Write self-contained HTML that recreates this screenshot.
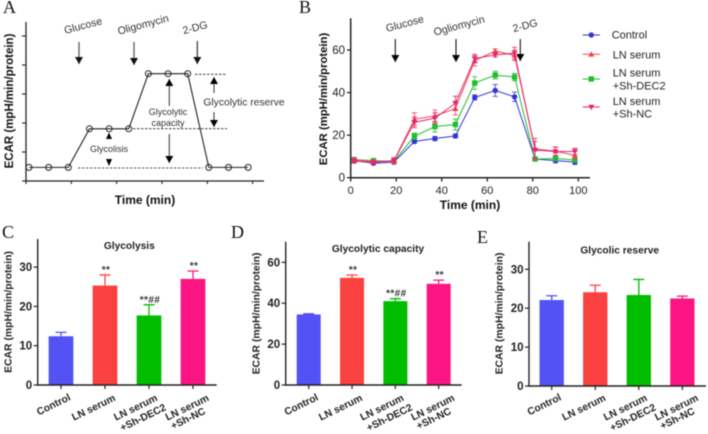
<!DOCTYPE html>
<html lang="en">
<head>
<meta charset="utf-8">
<title>ECAR glycolysis figure</title>
<style>
html,body{margin:0;padding:0;background:#fff;width:708px;height:434px;overflow:hidden}
svg{display:block;font-family:"Liberation Sans",Arial,sans-serif;filter:blur(.4px)}
.panel-letter{font-family:"Liberation Serif",serif;font-size:18px;fill:#111}
.note{font-size:10.6px;fill:#333}
.axis-title{font-weight:bold;fill:#111}
</style>
</head>
<body>
<svg id="fig" width="708" height="434" viewBox="0 0 708 434" xmlns="http://www.w3.org/2000/svg">
<defs>
<marker id="ah" markerWidth="9" markerHeight="10" refX="7" refY="4" orient="auto" markerUnits="userSpaceOnUse"><path d="M0 0L7 4L0 8Z" fill="#000"/></marker>
<marker id="ahg" markerWidth="9" markerHeight="10" refX="7" refY="4" orient="auto" markerUnits="userSpaceOnUse"><path d="M0 0L7 4L0 8Z" fill="#111"/></marker>
</defs>

<text class="panel-letter" x="3" y="13">A</text>
<text class="panel-letter" x="299" y="13">B</text>
<text class="panel-letter" x="2" y="238">C</text>
<text class="panel-letter" x="231" y="238">D</text>
<text class="panel-letter" x="477" y="243">E</text>

<!-- Panel A annotations -->
<g>
<text class="axis-title" font-size="11.5" text-anchor="middle" transform="translate(13,101) rotate(-90)">ECAR (mpH/min/protein)</text>
<text class="axis-title" font-size="12" text-anchor="middle" x="145" y="204">Time (min)</text>
<text class="note" text-anchor="middle" transform="translate(84,29) rotate(-15)">Glucose</text>
<text class="note" text-anchor="middle" transform="translate(144,28) rotate(-15)">Oligomycin</text>
<text class="note" text-anchor="middle" transform="translate(196,31) rotate(-15)">2-DG</text>
<line x1="79" y1="42" x2="79" y2="64" stroke="#666" stroke-width="1.4" marker-end="url(#ahg)"/>
<line x1="134" y1="42" x2="134" y2="65" stroke="#666" stroke-width="1.4" marker-end="url(#ahg)"/>
<line x1="197.3" y1="41" x2="197.3" y2="64" stroke="#222" stroke-width="1.1" marker-end="url(#ahg)"/>
<line x1="195" y1="74.3" x2="226" y2="74.3" stroke="#222" stroke-width=".8" stroke-dasharray="2.5 1.5"/>
<line x1="133" y1="128.7" x2="227" y2="128.7" stroke="#222" stroke-width=".8" stroke-dasharray="2.5 1.5"/>
<line x1="78" y1="168" x2="203" y2="168" stroke="#222" stroke-width=".8" stroke-dasharray="2.5 1.5"/>
<line x1="214" y1="93" x2="214" y2="77" stroke="#333" stroke-width="1" marker-end="url(#ah)"/>
<line x1="214" y1="112" x2="214" y2="127" stroke="#333" stroke-width="1" marker-end="url(#ah)"/>
<text class="note" style="font-size:10.3px" text-anchor="middle" x="244" y="105.5">Glycolytic reserve</text>
<text class="note" style="font-size:9px" text-anchor="middle" x="168" y="115">Glycolytic</text>
<text class="note" style="font-size:9px" text-anchor="middle" x="168" y="126">capacity</text>
<line x1="169.3" y1="106" x2="169.3" y2="79" stroke="#333" stroke-width="1" marker-end="url(#ah)"/>
<line x1="169.3" y1="134" x2="169.3" y2="163" stroke="#333" stroke-width="1" marker-end="url(#ah)"/>
<text class="note" style="font-size:9px" text-anchor="middle" x="109" y="152">Glycolisis</text>
<path d="M109 132.5L112 139H106Z" fill="#000"/>
<path d="M109 166L112 159H106Z" fill="#000"/>
</g>

<!-- Panel B static text -->
<g>
<text class="axis-title" font-size="11.3" text-anchor="middle" transform="translate(327,99) rotate(-90)">ECAR (mpH/min/protein)</text>
<text class="axis-title" font-size="12" text-anchor="middle" x="470" y="209">Time (min)</text>
<text class="note" text-anchor="middle" transform="translate(405.7,27) rotate(-15)">Glucose</text>
<text class="note" text-anchor="middle" transform="translate(460,29) rotate(-15)">Ogliomycin</text>
<text class="note" text-anchor="middle" transform="translate(526,29) rotate(-15)">2-DG</text>
<line x1="395.3" y1="39" x2="395.3" y2="62" stroke="#000" stroke-width="1" marker-end="url(#ah)"/>
<line x1="456" y1="39" x2="456" y2="62" stroke="#000" stroke-width="1" marker-end="url(#ah)"/>
<line x1="520.3" y1="39" x2="520.3" y2="61" stroke="#000" stroke-width="1" marker-end="url(#ah)"/>
</g>

<script>
// ---- Panel A schematic data ----
var schematicTimes = [2, 15, 28, 42, 55, 68, 81, 94, 107, 121, 134, 147];
var schematicLevels = [0.47, 0.47, 0.47, 1.8, 1.8, 1.8, 3.7, 3.7, 3.7, 0.47, 0.47, 0.47];
var schematicXTicks = [0, 30, 60, 90, 120, 150];
var schematicYTicks = [0, 1, 2, 3, 4, 5];

// ---- Panel B time-course data ----
var timePoints = [1.5, 10, 19, 28, 37, 46, 54.5, 63.5, 72, 81, 90, 98.5];
var controlValues = [8, 6.8, 7.3, 17, 18.4, 19.6, 37.7, 41, 38, 8.8, 8, 7.3];
var controlErrors = [0.8, 0.6, 0.6, 0.8, 1, 0.9, 1.2, 2.8, 2.2, 0.9, 1, 1];
var lnSerumValues = [8.5, 7.5, 8, 27.5, 29, 32.5, 55, 59.5, 57.5, 13.5, 12.5, 10.5];
var lnSerumErrors = [1, 0.8, 1, 3, 2.8, 3, 2.5, 1, 2.5, 5, 2, 2];
var shDec2Values = [8.5, 8, 7.7, 19.5, 24, 25, 44.5, 48.2, 47.3, 8.8, 9, 8.3];
var shDec2Errors = [0.8, 0.7, 0.6, 1.5, 2.5, 2.5, 3, 1.8, 1.7, 0.8, 1, 1];
var shNcValues = [7.8, 7.2, 8, 26, 28, 35, 56, 57.7, 58.5, 13, 12.3, 12.3];
var shNcErrors = [1, 0.7, 1.5, 2.5, 2.5, 3.3, 2, 1, 2.8, 4, 2, 1.5];
var timeXTicks = [0, 20, 40, 60, 80, 100];
var timeYTicks = [0, 20, 40, 60];

// ---- Bar panel data ----
var barCategories = [["Control"], ["LN serum"], ["LN serum", "+Sh-DEC2"], ["LN serum", "+Sh-NC"]];
var glycolysisMeans = [12.4, 25.3, 17.7, 27];
var glycolysisErrors = [1, 2.7, 2.7, 2];
var glycolysisMarks = ["", "**", "**##", "**"];
var glycolysisTicks = [0, 10, 20, 30];
var capacityMeans = [34.5, 52.4, 41, 49.5];
var capacityErrors = [0.3, 1.4, 1.2, 1.8];
var capacityMarks = ["", "**", "**##", "**"];
var capacityTicks = [0, 20, 40, 60];
var reserveMeans = [22.1, 24.1, 23.4, 22.5];
var reserveErrors = [1.1, 1.8, 4, 0.6];
var reserveMarks = ["", "", "", ""];
var reserveTicks = [0, 10, 20, 30];

var svg = document.getElementById('fig');
var NS = 'http://www.w3.org/2000/svg';
function add(parent, tag, attrs, text) {
  var el = document.createElementNS(NS, tag);
  for (var k in attrs) el.setAttribute(k, attrs[k]);
  if (text !== undefined) el.textContent = text;
  parent.appendChild(el);
  return el;
}

// ---- Panel A ----
(function () {
  var g = add(svg, 'g', {});
  
  
  var xA = function (t) { return 26 + t * 1.511; };
  var yA = function (v) { return 181 - v * 29; };
  var yAxis = add(g, 'line', {x1: 26, y1: 22, x2: 26, y2: 181.5, stroke: '#222', 'stroke-width': 1.3});
  
  
  var xAxis = add(g, 'line', {x1: 25, y1: 181, x2: 264, y2: 181, stroke: '#222', 'stroke-width': 1.3});
  
  
  schematicXTicks.forEach(function (t) {
    var tick = add(g, 'line', {x1: xA(t), y1: 181, x2: xA(t), y2: 184, stroke: '#222', 'stroke-width': 1.1});
    
    
  });
  schematicYTicks.forEach(function (v) {
    var tick = add(g, 'line', {x1: 22, y1: yA(v), x2: 26, y2: yA(v), stroke: '#222', 'stroke-width': 1.1});
    
    
  });
  var pts = schematicTimes.map(function (t, i) { return xA(t) + ',' + yA(schematicLevels[i]); }).join(' ');
  var line = add(g, 'polyline', {points: pts, fill: 'none', stroke: '#222', 'stroke-width': 1.1});
  
  
  schematicTimes.forEach(function (t, i) {
    var c = add(g, 'circle', {cx: xA(t), cy: yA(schematicLevels[i]), r: 3, fill: 'none', stroke: '#222', 'stroke-width': 1});
    
    
  });
})();

// ---- Panel B ----
(function () {
  var g = add(svg, 'g', {});
  
  
  var xB = function (t) { return 350.7 + t * 2.276; };
  var yB = function (v) { return 177.7 - v * 2.128; };
  var yAxis = add(g, 'line', {x1: 350.7, y1: 18.3, x2: 350.7, y2: 178.5, stroke: '#222', 'stroke-width': 1.5});
  
  
  var xAxis = add(g, 'line', {x1: 350, y1: 177.7, x2: 590, y2: 177.7, stroke: '#222', 'stroke-width': 1.5});
  
  
  timeXTicks.forEach(function (t) {
    var tick = add(g, 'line', {x1: xB(t), y1: 177.7, x2: xB(t), y2: 181.5, stroke: '#222', 'stroke-width': 1.3});
    
    
    var lab = add(g, 'text', {x: xB(t), y: 194, 'text-anchor': 'middle', 'font-size': 11, fill: '#222'}, t);
    
    
  });
  timeYTicks.forEach(function (v) {
    var tick = add(g, 'line', {x1: 347, y1: yB(v), x2: 350.7, y2: yB(v), stroke: '#222', 'stroke-width': 1.3});
    
    
    var lab = add(g, 'text', {x: 345, y: yB(v) + 4, 'text-anchor': 'end', 'font-size': 11.5, fill: '#222'}, v);
    
    
  });
  function marker(parent, shape, x, y, color) {
    var s = 2.7;
    if (shape === 'circle') return add(parent, 'circle', {cx: x, cy: y, r: s, fill: color});
    if (shape === 'square') return add(parent, 'rect', {x: x - s, y: y - s, width: 2 * s, height: 2 * s, fill: color});
    if (shape === 'up') return add(parent, 'path', {d: 'M' + x + ' ' + (y - s - .4) + 'L' + (x + s + .3) + ' ' + (y + s - .4) + 'L' + (x - s - .3) + ' ' + (y + s - .4) + 'Z', fill: color});
    return add(parent, 'path', {d: 'M' + x + ' ' + (y + s + .4) + 'L' + (x + s + .3) + ' ' + (y - s + .4) + 'L' + (x - s - .3) + ' ' + (y - s + .4) + 'Z', fill: color});
  }
  function series(vals, errs, color, shape, name) {
    var sg = add(g, 'g', {});
    
    
    var pts = timePoints.map(function (t, i) { return xB(t) + ',' + yB(vals[i]); }).join(' ');
    var line = add(sg, 'polyline', {points: pts, fill: 'none', stroke: color, 'stroke-width': 1});
    
    
    timePoints.forEach(function (t, i) {
      var x = xB(t), y = yB(vals[i]), top = yB(vals[i] + errs[i]), bot = yB(vals[i] - errs[i]);
      var eb = add(sg, 'path', {d: 'M' + x + ' ' + bot + 'V' + top + 'M' + (x - 2.6) + ' ' + top + 'H' + (x + 2.6) + 'M' + (x - 2.6) + ' ' + bot + 'H' + (x + 2.6), fill: 'none', stroke: color, 'stroke-width': .8});
      
      
      var m = marker(sg, shape, x, y, color);
      
      
    });
  }
  series(controlValues, controlErrors, '#3434d6', 'circle', 'control');
  series(shDec2Values, shDec2Errors, '#1fbf2f', 'square', 'sh-dec2');
  series(lnSerumValues, lnSerumErrors, '#ee4450', 'up', 'ln-serum');
  series(shNcValues, shNcErrors, '#e6246e', 'down', 'sh-nc');

  // legend
  var leg = add(g, 'g', {});
  
  
  function legendEntry(y, color, shape, name, lines) {
    var e = add(leg, 'g', {});
    
    
    var l = add(e, 'line', {x1: 582.7, y1: y, x2: 600, y2: y, stroke: color, 'stroke-width': 1});
    
    
    var m = marker(e, shape, 591.3, y, color);
    
    
    lines.forEach(function (ln) {
      var t = add(e, 'text', {x: ln[1], y: ln[2], 'font-size': 11, fill: '#222'}, ln[0]);
      
      
    });
  }
  legendEntry(35, '#3434d6', 'circle', 'control', [['Control', 611.7, 38.7]]);
  legendEntry(54.3, '#ee4450', 'up', 'ln-serum', [['LN serum', 612.7, 58.7]]);
  legendEntry(79, '#1fbf2f', 'square', 'sh-dec2', [['LN serum', 612.7, 76.7], ['+Sh-DEC2', 612.7, 89.7]]);
  legendEntry(107, '#e6246e', 'down', 'sh-nc', [['LN serum', 612.7, 105], ['+Sh-NC', 612.7, 117.7]]);
})();

// ---- Bar panels ----
var barColors = ['#5252f5', '#fb4040', '#00bd00', '#fb1583'];
var labelOffsets = [[-6, 404], [-10, 407], [-12, 407, -4.5, 417], [-4.5, 407, -3.5, 418]];
function barChart(cfg, means, errors, marks, ticks) {
  var g = add(svg, 'g', {});
  
  
  var yS = function (v) { return cfg.base - v * cfg.scale; };
  var xS = function (i) { return cfg.first + i * cfg.step; };
  means.forEach(function (v, i) {
    var x = xS(i), color = barColors[i];
    var topY = yS(v + errors[i]);
    var eb = add(g, 'path', {d: 'M' + x + ' ' + yS(v) + 'V' + topY + 'M' + (x - 5.5) + ' ' + topY + 'H' + (x + 5.5), fill: 'none', stroke: color, 'stroke-width': 1.3});
    
    
    var bar = add(g, 'rect', {x: x - cfg.width / 2, y: yS(v), width: cfg.width, height: cfg.base - yS(v), fill: color});
    
    
    if (marks[i]) {
      var star = add(g, 'text', {x: x + 1, y: topY - 2, 'text-anchor': 'middle', 'font-size': 10, 'font-weight': 'bold', fill: '#333', 'letter-spacing': '.4'}, marks[i]);
      
      
    }
    var tick = add(g, 'line', {x1: x, y1: cfg.base, x2: x, y2: cfg.base + 4, stroke: '#222', 'stroke-width': 1.2});
    
    
    barCategories[i].forEach(function (txt, j) {
      var off = labelOffsets[i];
      var lx = x + off[j * 2], ly = off[j * 2 + 1];
      var lab = add(g, 'text', {'text-anchor': 'middle', 'font-size': 10.2, 'font-weight': 'bold', fill: '#222', transform: 'translate(' + lx + ',' + (ly + 3.5) + ') rotate(-26)'}, txt);
      
      
    });
  });
  var yAxis = add(g, 'line', {x1: cfg.axisX, y1: cfg.top, x2: cfg.axisX, y2: cfg.base + .7, stroke: '#222', 'stroke-width': 1.4});
  
  
  var xAxis = add(g, 'line', {x1: cfg.axisX, y1: cfg.base, x2: cfg.end, y2: cfg.base, stroke: '#222', 'stroke-width': 1.4});
  
  
  ticks.forEach(function (v) {
    var tick = add(g, 'line', {x1: cfg.axisX - 4, y1: yS(v), x2: cfg.axisX, y2: yS(v), stroke: '#222', 'stroke-width': 1.2});
    
    
    var lab = add(g, 'text', {x: cfg.axisX - 5.5, y: yS(v) + 4, 'text-anchor': 'end', 'font-size': 11.5, 'font-weight': 'bold', fill: '#222'}, v);
    
    
  });
  var title = add(g, 'text', {x: cfg.titleX, y: cfg.titleY, 'text-anchor': 'middle', 'font-size': 10.2, 'font-weight': 'bold', fill: '#222'}, cfg.title);
  
  
  var yt = add(g, 'text', {'text-anchor': 'middle', 'font-size': 10.4, 'font-weight': 'bold', fill: '#222', transform: 'translate(' + cfg.ylabX + ',' + cfg.ylabY + ') rotate(-90)'}, 'ECAR (mpH/min/protein)');
  
  
}
barChart({name: 'glycolysis', title: 'Glycolysis', base: 385, scale: 3.93, top: 239, axisX: 37.7, end: 216.7, first: 61, step: 44, width: 24.7, titleX: 129.3, titleY: 249, ylabX: 11.5, ylabY: 312}, glycolysisMeans, glycolysisErrors, glycolysisMarks, glycolysisTicks);
barChart({name: 'capacity', title: 'Glycolytic capacity', base: 385, scale: 2.045, top: 241.7, axisX: 285.7, end: 461.7, first: 308.7, step: 43.33, width: 24, titleX: 378, titleY: 252, ylabX: 259.5, ylabY: 313.5}, capacityMeans, capacityErrors, capacityMarks, capacityTicks);
barChart({name: 'reserve', title: 'Glycolic reserve', base: 386, scale: 3.89, top: 241.7, axisX: 529, end: 706, first: 551.7, step: 43.55, width: 24.3, titleX: 619.7, titleY: 253.3, ylabX: 502.5, ylabY: 313.5}, reserveMeans, reserveErrors, reserveMarks, reserveTicks);
</script>
</svg>
</body>
</html>
